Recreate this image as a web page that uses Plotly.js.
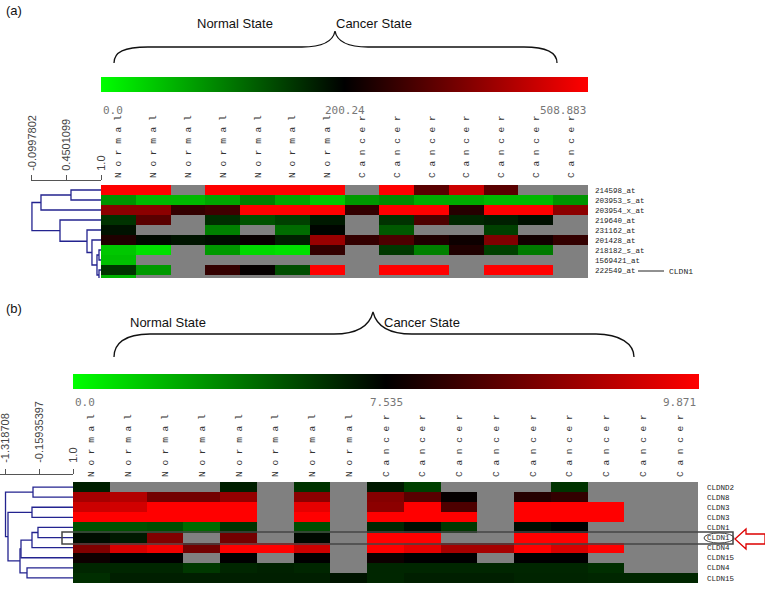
<!DOCTYPE html>
<html>
<head>
<meta charset="utf-8">
<script src="https://cdn.plot.ly/plotly-3.0.1.min.js"></script>
<style>html,body{margin:0;padding:0;background:#fff;}#chart{width:765px;height:591px;}</style>
</head>
<body>
<div id="chart"></div>
<script>
// ---------------- DATA ----------------
// Panel (a): expression levels mapped to -1 (green) .. 0 (black) .. 1 (red); null = missing (grey)
const colsA = ["Normal","Normal","Normal","Normal","Normal","Normal","Normal",
               "Cancer","Cancer","Cancer","Cancer","Cancer","Cancer","Cancer"];
const genesA = ["214598_at","203953_s_at","203954_x_at","219640_at","231162_at",
                "201428_at","218182_s_at","1569421_at","222549_at","222???"];
const rowA0 = [1, 1, null, 1, 1, 1, 1, null, 1, 0.35, 0.8, 0.35, null, null];
const rowA1 = [-0.58, -0.72, -0.72, -0.65, -0.5, -0.65, -0.78, -0.6, -0.55, -0.67, -0.67, -0.72, -0.72, -0.58];
const rowA2 = [0.55, 0.55, 0.2, 0.25, 1, 1, 1, 0.2, 1, 1, 0.15, 1, 1, 0.55];
const rowA3 = [-0.2, 0.35, null, -0.18, -0.32, -0.25, -0.1, null, -0.2, 0.3, -0.15, -0.12, -0.06, null];
const rowA4 = [-0.07, null, null, -0.5, null, -0.42, -0.02, null, -0.35, null, null, -0.25, null, null];
const rowA5 = [0.12, -0.04, -0.08, -0.05, 0.03, -0.12, 0.6, 0.2, 0.3, 0.12, 0.05, 0.5, 0.07, 0.2];
const rowA6 = [-0.78, -0.88, null, -0.6, -0.85, -0.88, 0.2, null, -0.22, -0.5, 0.12, -0.25, -0.48, null];
const rowA7 = [-0.75, null, null, null, null, null, null, null, null, null, null, null, null, null];
const rowA8 = [-0.2, -0.6, null, 0.2, 0.02, -0.3, 1, null, 1, 1, null, 1, 1, null];
const rowA9 = [-0.7, null, null, null, null, null, null, null, null, null, null, null, null, null];
const scaleA = [-0.0997802, 0.4501099, 1.0];
const scaleAText = ["-0.0997802", "0.4501099", "1.0"];
// dendrogram (a): merge k joins node left[k] and right[k] at similarity height[k]; nodes >= 10 are earlier merges
const dendA_left   = [0, 10, 6, 8, 12, 5, 4, 3, 11];
const dendA_right  = [1, 2, 7, 9, 13, 14, 15, 16, 17];
const dendA_height = [0.522, 0.044, 0.968, 0.968, 0.936, 0.856, 0.777, 0.347, -0.0998];
const barLabelsA = ["0.0", "200.24", "508.883"];

// Panel (b)
const colsB = ["Normal","Normal","Normal","Normal","Normal","Normal","Normal","Normal",
               "Cancer","Cancer","Cancer","Cancer","Cancer","Cancer","Cancer","Cancer","Cancer"];
const genesB = ["CLDND2","CLDN8","CLDN3","CLDN3","CLDN1","CLDN1","CLDN4","CLDN15","CLDN4","CLDN15"];
const rowB0 = [-0.12, null, null, null, -0.12, null, -0.2, null, -0.1, -0.25, null, null, null, -0.2, null, null, null];
const rowB1 = [0.65, 0.7, 0.45, 0.45, 0.58, null, 0.55, null, 0.52, 0.35, 0.02, null, 0.15, 0.2, null, null, null];
const rowB2 = [0.8, 0.82, 1, 1, 1, null, 0.9, null, 0.55, 1, 0.3, null, 1, 1, 1, null, null];
const rowB3 = [1, 1, 1, 1, 1, null, 1, null, 1, 1, 1, null, 1, 1, 1, null, null];
const rowB4 = [-0.32, -0.32, -0.3, -0.42, -0.2, null, -0.3, null, -0.15, -0.05, -0.22, null, -0.05, 0, null, null, null];
const rowB5 = [-0.05, -0.1, 0.5, null, 0.45, null, -0.03, null, 1, 1, null, null, 1, 1, null, null, null];
const rowB6 = [0.5, 0.85, 0.95, 0.45, 1, 1, 0.8, null, 1, 0.9, 0.65, 0.65, 1, 0.85, 1, null, null];
const rowB7 = [0.05, 0, 0, null, 0, null, 0, null, 0.05, 0, 0, null, 0, 0, null, null, null];
const rowB8 = [-0.15, -0.15, -0.15, -0.22, -0.15, -0.13, -0.15, null, -0.15, -0.15, -0.15, -0.15, -0.15, -0.15, -0.18, null, null];
const rowB9 = [-0.18, -0.12, -0.12, -0.12, -0.12, -0.12, -0.12, -0.08, -0.15, -0.12, -0.12, -0.12, -0.14, -0.14, -0.15, -0.15, -0.15];
const scaleB = [-1.318708, -0.15935397, 1.0];
const scaleBText = ["-1.318708", "-0.15935397", "1.0"];
const dendB_left   = [0, 2, 4, 12, 13, 8, 14, 11, 10];
const dendB_right  = [1, 3, 5, 6, 7, 9, 15, 16, 17];
const dendB_height = [-0.374, -0.409, -0.203, -0.409, -0.787, -0.58, -0.821, -1.233, -1.318708];
const barLabelsB = ["0.0", "7.535", "9.871"];

// ---------------- HELPERS ----------------
const W = 765, H = 591;
const px = v => v / W;
const py = v => 1 - v / H;
const spaced = s => s.split("").join(" ");
function dendro(left, right, height, n) {
  const pos = [], hgt = [], xs = [], ys = [];
  for (let i = 0; i < n; i++) { pos[i] = i; hgt[i] = 1.0; }
  for (let k = 0; k < left.length; k++) {
    const a = left[k], b = right[k], h = height[k];
    xs.push(hgt[a], h, h, hgt[b], null);
    ys.push(pos[a], pos[a], pos[b], pos[b], null);
    pos[n + k] = (pos[a] + pos[b]) / 2; hgt[n + k] = h;
  }
  return {xs, ys};
}
const cs = [[0, "rgb(0,255,0)"], [0.5, "rgb(0,0,0)"], [1, "rgb(255,0,0)"]];
const zA = [rowA0,rowA1,rowA2,rowA3,rowA4,rowA5,rowA6,rowA7,rowA8,rowA9];
const zB = [rowB0,rowB1,rowB2,rowB3,rowB4,rowB5,rowB6,rowB7,rowB8,rowB9];
const idx = n => Array.from({length: n}, (_, i) => i);
const dA = dendro(dendA_left, dendA_right, dendA_height, genesA.length);
const dB = dendro(dendB_left, dendB_right, dendB_height, genesB.length);
const dendroLine = {color: "#23238f", width: 1.3};

const traces = [
  {type: "heatmap", z: zA, x: idx(colsA.length), y: idx(genesA.length), xaxis: "x", yaxis: "y",
   colorscale: cs, zmin: -1, zmax: 1, hoverinfo: "skip",
   colorbar: {orientation: "h", x: px(101), xanchor: "left", y: py(77), yanchor: "top",
     len: 487, lenmode: "pixels", thickness: 15, thicknessmode: "pixels", xpad: 0, ypad: 0,
     outlinewidth: 0, showticklabels: false, ticks: ""}},
  {type: "scatter", mode: "lines", x: dA.xs, y: dA.ys, xaxis: "x2", yaxis: "y",
   line: dendroLine, hoverinfo: "skip", showlegend: false},
  {type: "heatmap", z: zB, x: idx(colsB.length), y: idx(genesB.length), xaxis: "x3", yaxis: "y3",
   colorscale: cs, zmin: -1, zmax: 1, hoverinfo: "skip",
   colorbar: {orientation: "h", x: px(73), xanchor: "left", y: py(374), yanchor: "top",
     len: 626, lenmode: "pixels", thickness: 15, thicknessmode: "pixels", xpad: 0, ypad: 0,
     outlinewidth: 0, showticklabels: false, ticks: ""}},
  {type: "scatter", mode: "lines", x: dB.xs, y: dB.ys, xaxis: "x4", yaxis: "y3",
   line: dendroLine, hoverinfo: "skip", showlegend: false}
];

const colFont = {family: "Liberation Mono, monospace", size: 9.5, color: "#333"};
const scaleFont = {family: "Liberation Sans, Arial, sans-serif", size: 11, color: "#444"};
const rowFont = {family: "Liberation Mono, monospace", size: 7.5, color: "#222"};
const plain = {showgrid: false, zeroline: false, fixedrange: true, ticklabeloverflow: "allow"};

const layout = {
  width: W, height: H, margin: {l: 0, r: 0, t: 0, b: 0},
  paper_bgcolor: "#fff", plot_bgcolor: "rgba(0,0,0,0)", showlegend: false,
  xaxis: Object.assign({}, plain, {domain: [px(101), px(588)], range: [-0.5, 13.5], anchor: "y",
    side: "top", tickvals: idx(colsA.length), ticktext: colsA.map(spaced), tickangle: -90,
    ticks: "", tickfont: colFont, ticklabelstandoff: 6}),
  yaxis: Object.assign({}, plain, {domain: [py(278), py(185)], range: [8.8, -0.5], anchor: "x",
    side: "right", tickvals: idx(genesA.length - 1), ticktext: genesA.slice(0, -1), ticks: "",
    tickfont: rowFont, ticklabelstandoff: 6}),
  xaxis2: Object.assign({}, plain, {domain: [px(31), px(101)], range: [-0.115, 1.0], anchor: "free",
    position: py(180), side: "top", showline: true, linecolor: "#555", linewidth: 1,
    ticks: "outside", ticklen: 5, tickcolor: "#555", tickvals: scaleA, ticktext: scaleAText,
    tickangle: -90, tickfont: scaleFont, ticklabelstandoff: 2}),
  xaxis3: Object.assign({}, plain, {domain: [px(73), px(698)], range: [-0.5, 16.5], anchor: "y3",
    side: "top", tickvals: idx(colsB.length), ticktext: colsB.map(spaced), tickangle: -90,
    ticks: "", tickfont: colFont, ticklabelstandoff: 4}),
  yaxis3: Object.assign({}, plain, {domain: [py(583), py(482)], range: [9.5, -0.5], anchor: "x3",
    side: "right", tickvals: idx(genesB.length), ticktext: genesB, ticks: "",
    tickfont: rowFont, ticklabelstandoff: 8}),
  xaxis4: Object.assign({}, plain, {domain: [0, px(73)], range: [-1.508, 1.0], anchor: "free",
    position: py(474), side: "top", showline: true, linecolor: "#555", linewidth: 1,
    ticks: "outside", ticklen: 5, tickcolor: "#555", tickvals: scaleB, ticktext: scaleBText,
    tickangle: -90, tickfont: scaleFont, ticklabelstandoff: 4}),
  xaxis5: {domain: [0, 1], range: [0, W], anchor: "y5", visible: false, fixedrange: true},
  yaxis5: {domain: [0, 1], range: [H, 0], anchor: "x5", visible: false, fixedrange: true},
  shapes: [
    {type: "rect", xref: "x", yref: "y", x0: -0.5, x1: 13.5, y0: -0.5, y1: 9.5,
     fillcolor: "rgb(128,128,128)", line: {width: 0}, layer: "below"},
    {type: "rect", xref: "x3", yref: "y3", x0: -0.5, x1: 16.5, y0: -0.5, y1: 9.5,
     fillcolor: "rgb(128,128,128)", line: {width: 0}, layer: "below"},
    {type: "path", xref: "x5", yref: "y5", line: {color: "#111", width: 1.3},
     path: "M 114 63 C 114 52, 124 47, 148 47 L 302 47 C 322 47, 333 42, 335 31 C 337 42, 348 47, 368 47 L 524 47 C 546 47, 557 53, 557 63"},
    {type: "path", xref: "x5", yref: "y5", line: {color: "#111", width: 1.3},
     path: "M 114 357 C 114 344, 124 334, 150 334 L 334 334 C 360 334, 370 324, 373 312 C 376 324, 386 334, 412 334 L 596 334 C 620 334, 634 344, 634 357"},
    {type: "rect", xref: "x5", yref: "y5", x0: 62, x1: 733, y0: 532, y1: 544,
     line: {color: "#444", width: 1.5}, layer: "above"},
    {type: "circle", xref: "x5", yref: "y5", x0: 704, x1: 734, y0: 533, y1: 543,
     line: {color: "#444", width: 1}},
    {type: "path", xref: "x5", yref: "y5", line: {color: "#d00", width: 1.3}, fillcolor: "#fff",
     path: "M 735 539 L 746 529 L 746 534 L 765 534 L 765 544 L 746 544 L 746 549 Z"},
    {type: "line", xref: "x5", yref: "y5", x0: 638, x1: 664, y0: 271, y1: 271,
     line: {color: "#222", width: 1}}
  ],
  annotations: [
    {text: "(a)", x: 4, y: 10, xanchor: "left"},
    {text: "(b)", x: 4, y: 308, xanchor: "left"},
    {text: "Normal State", x: 235, y: 23},
    {text: "Cancer State", x: 374, y: 23},
    {text: "Normal State", x: 168, y: 322},
    {text: "Cancer State", x: 422, y: 322},
  ].map(a => Object.assign({xref: "x5", yref: "y5", showarrow: false, yanchor: "middle",
      font: {family: "Liberation Sans, Arial, sans-serif", size: 13, color: "#111"}}, a))
  .concat([
    {text: barLabelsA[0], x: 101, y: 110, xanchor: "left"},
    {text: barLabelsA[1], x: 345, y: 110, xanchor: "center"},
    {text: barLabelsA[2], x: 588, y: 110, xanchor: "right"},
    {text: barLabelsB[0], x: 73, y: 402, xanchor: "left"},
    {text: barLabelsB[1], x: 386, y: 402, xanchor: "center"},
    {text: barLabelsB[2], x: 698, y: 402, xanchor: "right"}
  ].map(a => Object.assign({xref: "x5", yref: "y5", showarrow: false, yanchor: "middle",
      font: {family: "DejaVu Sans Mono, monospace", size: 11, color: "#777"}}, a)))
  .concat([
    {text: "CLDN1", x: 667, y: 271, xanchor: "left", xref: "x5", yref: "y5", showarrow: false,
     yanchor: "middle", font: {family: "Liberation Mono, monospace", size: 8, color: "#222"}}
  ])
};

Plotly.newPlot("chart", traces, layout, {staticPlot: true, displayModeBar: false});
</script>
</body>
</html>
